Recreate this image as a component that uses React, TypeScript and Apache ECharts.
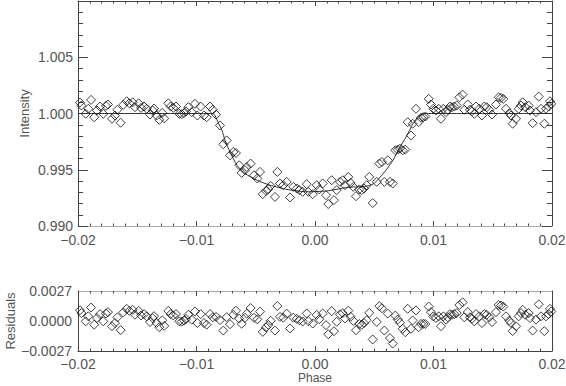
import React, { useEffect, useRef } from "react";
import * as echarts from "echarts";

// Observed phase of each data point
const phase = [
  -0.01983, -0.01971, -0.01935, -0.01913, -0.0189, -0.01863, -0.0184, -0.01814, -0.01787, -0.01764,
  -0.01747, -0.01713, -0.01688, -0.01668, -0.0164, -0.01618, -0.01589, -0.01567, -0.01538, -0.01519,
  -0.01488, -0.01468, -0.01443, -0.0142, -0.01392, -0.0137, -0.01359, -0.01336, -0.01314, -0.01289,
  -0.01272, -0.01238, -0.01218, -0.01196, -0.01173, -0.01145, -0.01125, -0.01105, -0.01089, -0.01069,
  -0.0104, -0.01013, -0.00993,
  -0.00965, -0.00937, -0.00914, -0.00886, -0.00863, -0.00835, -0.00802, -0.00774, -0.00745, -0.00717,
  -0.00689, -0.00667, -0.00639, -0.00619, -0.00591, -0.00576, -0.00543, -0.00515, -0.00487, -0.00464,
  -0.00441, -0.00414, -0.00394, -0.00374, -0.00338, -0.00318, -0.00295, -0.00268, -0.00239, -0.00211,
  -0.00183, -0.00154, -0.00132, -0.00104, -0.0007, -0.00057, -0.00019, 0.00014, 0.00036, 0.00065,
  0.00093, 0.00112, 0.00141, 0.0016, 0.00183, 0.00211, 0.00234, 0.00253, 0.00281, 0.00301,
  0.00323, 0.00346, 0.00374, 0.00394, 0.00414, 0.00436, 0.00458, 0.00487, 0.00521, 0.00543,
  0.00565, 0.00585, 0.00614, 0.00633, 0.00656, 0.00678, 0.00698, 0.00717, 0.0074, 0.00762,
  0.00782, 0.0081, 0.00824, 0.00852, 0.00875, 0.00895, 0.00914, 0.00931, 0.0096, 0.00979,
  0.00998, 0.01021, 0.01044, 0.01063, 0.01083, 0.01106, 0.0112, 0.01139, 0.01156, 0.01176,
  0.01196, 0.01218, 0.01246, 0.0126, 0.01289, 0.01308, 0.01325, 0.01344, 0.01359, 0.01387,
  0.01409, 0.01429, 0.01449, 0.01471, 0.01494, 0.01527, 0.0155, 0.0157, 0.01589, 0.01612,
  0.0164, 0.01654, 0.01668, 0.01696, 0.01719, 0.01738, 0.01753, 0.01775, 0.01803, 0.01814,
  0.01837, 0.01865, 0.01888, 0.01907, 0.01935, 0.01949, 0.01972, 0.01983, 0.01994,
];

// Observed relative intensity
const intensity = [
  1.00097, 1.00071, 0.99997, 1.00042, 1.00121, 0.99967, 1.00027, 1.00062, 0.99997, 1.00068,
  1.0008, 0.99953, 0.99982, 1.00033, 0.99918, 1.00077, 1.00109, 1.00091, 1.001, 1.00056,
  1.00091, 1.0005, 1.00062, 1.00042, 0.99991, 1.00027, 1.00044, 0.99982, 0.99944, 1.00006,
  0.99956, 1.00091, 1.00062, 1.0005, 1.00062, 0.99997, 0.99994, 1.00003, 1.00018, 1.00056,
  1.00012, 1.00086, 0.99982,
  1.00062, 0.99982, 0.99967, 1.00062, 1.00033, 0.99991, 0.99894, 0.99726, 0.99761, 0.99628,
  0.99658, 0.99649, 0.9954, 0.99472, 0.99496, 0.99525, 0.99555, 0.99451, 0.99422, 0.99481,
  0.99283, 0.99312, 0.99327, 0.99357, 0.99259, 0.99481, 0.99378, 0.99363, 0.99392, 0.99254,
  0.99348, 0.99334, 0.99319, 0.99304, 0.99372, 0.99304, 0.99283, 0.99363, 0.99325, 0.99378,
  0.99274, 0.99195, 0.99407, 0.9923, 0.99319, 0.99392, 0.99407, 0.99363, 0.99436, 0.99383,
  0.99348, 0.99265, 0.99325, 0.99319, 0.99334, 0.99363, 0.99436, 0.99204, 0.99392, 0.99555,
  0.99569, 0.99392, 0.99584, 0.99392, 0.99378, 0.99673, 0.99679, 0.99687, 0.99673, 0.99679,
  0.99923, 0.99805, 0.99909, 1.00042, 0.99923, 0.99962, 0.99967, 0.99973, 1.0013, 1.0008,
  1.00042, 1.00027, 1.00042, 0.99953, 1.00042, 1.00012, 1.00033, 1.00062, 1.00056, 1.00062,
  1.00071, 1.00144, 1.00168, 1.00033, 1.0008, 1.00033, 1.0002, 0.99997, 1.00062, 1.00042,
  0.99982, 1.00062, 1.00056, 1.00033, 0.99991, 1.0008, 1.00144, 1.00139, 1.0013, 1.00042,
  1.00003, 0.99982, 0.99909, 0.99953, 1.00042, 1.00071, 1.001, 1.00056, 1.00071, 1.00027,
  0.99914, 1.00012, 1.0015, 1.00042, 0.99909, 1.00042, 1.00062, 1.00109, 1.00086,
];

// Residuals (data minus model) for each point
const residual = [
  0.00097, 0.00071, -0.00003, 0.00042, 0.00121, -0.00033, 0.00027, 0.00062, -0.00003, 0.00068,
  0.0008, -0.00047, -0.00018, 0.00033, -0.00082, 0.00077, 0.00109, 0.00091, 0.001, 0.00056,
  0.00091, 0.0005, 0.00062, 0.00042, -0.00009, 0.00027, 0.00044, -0.00018, -0.00056, 0.00006,
  -0.00044, 0.00091, 0.00062, 0.0005, 0.00062, -0.00003, -0.00006, 0.00003, 0.00018, 0.00056,
  0.00012, 0.00086, -0.00018,
  0.00062, -0.00018, -0.00033, 0.00062, 0.00033, 0.00037, 0.00008, -0.00086, 0.00035, -0.00029,
  0.00056, 0.00092, 0.00021, -0.00025, 0.00029, 0.00066, 0.00117, 0.00029, 0.00015, 0.00084,
  -0.00098, -0.00058, -0.00035, 0.00002, -0.00086, 0.00135, 0.00037, 0.0003, 0.00066, -0.00067,
  0.0003, 0.00019, 0.00007, -0.00004, 0.00068, -0.00001, -0.00023, 0.00055, 0.00016, 0.00068,
  -0.00037, -0.00119, 0.00089, -0.00092, -0.00007, 0.0006, 0.00071, 0.00023, 0.00093, 0.00038,
  0.00001, -0.00083, -0.00027, -0.00034, -0.00019, 0.00007, 0.00073, -0.00166, -0.00008, 0.00134,
  0.00115, -0.00086, 0.00067, -0.00154, -0.00203, 0.00049, 0.00013, -0.00015, -0.0007, -0.00101,
  0.0011, -0.0007, 0.00005, 0.00095, -0.00056, -0.00026, -0.00026, -0.00027, 0.0013, 0.0008,
  0.00042, 0.00027, 0.00042, -0.00047, 0.00042, 0.00012, 0.00033, 0.00062, 0.00056, 0.00062,
  0.00071, 0.00144, 0.00168, 0.00033, 0.0008, 0.00033, 0.0002, -0.00003, 0.00062, 0.00042,
  -0.00018, 0.00062, 0.00056, 0.00033, -0.00009, 0.0008, 0.00144, 0.00139, 0.0013, 0.00042,
  0.00003, -0.00018, -0.00091, -0.00047, 0.00042, 0.00071, 0.001, 0.00056, 0.00071, 0.00027,
  -0.00086, 0.00012, 0.0015, 0.00042, -0.00091, 0.00042, 0.00062, 0.00109, 0.00086,
];

// Transit model curve
const modelPhase = [
  -0.02, -0.00861, -0.00819, -0.00785, -0.00759, -0.00717, -0.00658, -0.00591, -0.00489, -0.0038,
  -0.00236, -0.00068, 0.00101, 0.0027, 0.0043, 0.00489, 0.0054, 0.00599, 0.00658, 0.00709,
  0.00768, 0.00827, 0.00878, 0.00937, 0.02,
];
const modelIntensity = [
  1, 1, 0.99923, 0.9985, 0.99761, 0.99658, 0.9954, 0.99466, 0.99407, 0.99363,
  0.99325, 0.99304, 0.99312, 0.99342, 0.99354, 0.99372, 0.99422, 0.99496, 0.99584, 0.99688,
  0.9979, 0.99909, 0.99982, 1, 1,
];

const FONT = "Liberation Sans";
const LABEL_COLOR = "#555";
const AXIS_COLOR = "#444";

const minusFmt = (digits: number) => (v: number) => {
  const s = Math.abs(v) < 1e-12 ? (0).toFixed(digits) : v.toFixed(digits);
  return s.replace("-", "\u2212");
};

export default function App() {
  const ref = useRef<HTMLDivElement>(null);

  useEffect(() => {
    if (!ref.current) return;
    const chart = echarts.init(ref.current, undefined, { renderer: "svg" });

    const labelBase = { color: LABEL_COLOR, fontFamily: FONT, fontSize: 14 };
    const nameBase = { color: LABEL_COLOR, fontFamily: FONT, fontSize: 13 };
    const tickStyle = { color: AXIS_COLOR, width: 1 };

    const xCommon = (gridIndex: number, position: "top" | "bottom", lineColor: string) => ({
      type: "value" as const,
      gridIndex,
      position,
      min: -0.02,
      max: 0.02,
      interval: 0.01,
      axisLine: { show: true, onZero: false, lineStyle: { color: lineColor, width: 1 } },
      axisTick: { show: true, inside: true, length: 5, lineStyle: tickStyle },
      minorTick: { show: true, splitNumber: 10, length: 2.5, lineStyle: tickStyle },
      splitLine: { show: false },
      minorSplitLine: { show: false },
    });

    const option: any = {
      animation: false,
      backgroundColor: "#fff",
      grid: [
        { left: 78, top: 1, width: 474, height: 225, containLabel: false, outerBoundsMode: "none" },
        { left: 78, top: 291, width: 474, height: 60, containLabel: false, outerBoundsMode: "none" },
      ],
      xAxis: [
        {
          ...xCommon(0, "bottom", "#aaa"),
          axisLabel: { ...labelBase, margin: 7, formatter: minusFmt(2) },
        },
        { ...xCommon(0, "top", AXIS_COLOR), axisLabel: { show: false } },
        {
          ...xCommon(1, "bottom", AXIS_COLOR),
          axisLabel: { ...labelBase, margin: 6, formatter: minusFmt(2) },
          name: "Phase",
          nameLocation: "middle",
          nameGap: 21,
          nameMoveOverlap: false,
          nameTextStyle: { ...nameBase, fontSize: 12 },
        },
        { ...xCommon(1, "top", "#aaa"), axisLabel: { show: false } },
      ],
      yAxis: [
        {
          type: "value",
          gridIndex: 0,
          position: "left",
          min: 0.99,
          max: 1.01,
          interval: 0.005,
          axisLine: { show: true, onZero: false, lineStyle: { color: AXIS_COLOR, width: 1 } },
          axisTick: { show: true, inside: true, length: 10, lineStyle: tickStyle },
          minorTick: { show: true, splitNumber: 5, length: 5, lineStyle: tickStyle },
          splitLine: { show: false },
          axisLabel: {
            ...labelBase,
            margin: 5,
            formatter: (v: number) => (v > 1.0095 ? "" : v.toFixed(3)),
          },
          name: "Intensity",
          nameLocation: "middle",
          nameGap: 47,
          nameMoveOverlap: false,
          nameTextStyle: { ...nameBase },
        },
        {
          type: "value",
          gridIndex: 0,
          position: "right",
          min: 0.99,
          max: 1.01,
          interval: 0.005,
          axisLine: { show: true, onZero: false, lineStyle: { color: AXIS_COLOR, width: 1 } },
          axisTick: { show: true, inside: true, length: 10, lineStyle: tickStyle },
          minorTick: { show: true, splitNumber: 5, length: 5, lineStyle: tickStyle },
          splitLine: { show: false },
          axisLabel: { show: false },
        },
        {
          type: "value",
          gridIndex: 1,
          position: "left",
          min: -0.0027,
          max: 0.0027,
          interval: 0.0027,
          axisLine: { show: true, onZero: false, lineStyle: { color: AXIS_COLOR, width: 1 } },
          axisTick: { show: false },
          splitLine: { show: false },
          axisLabel: { ...labelBase, margin: 6, formatter: minusFmt(4) },
          name: "Residuals",
          nameLocation: "middle",
          nameGap: 61,
          nameMoveOverlap: false,
          nameTextStyle: { ...nameBase },
        },
        {
          type: "value",
          gridIndex: 1,
          position: "right",
          min: -0.0027,
          max: 0.0027,
          interval: 0.0027,
          axisLine: { show: true, onZero: false, lineStyle: { color: AXIS_COLOR, width: 1 } },
          axisTick: { show: false },
          splitLine: { show: false },
          axisLabel: { show: false },
        },
      ],
      series: [
        {
          type: "line",
          xAxisIndex: 0,
          yAxisIndex: 0,
          data: modelPhase.map((p, i) => [p, modelIntensity[i]]),
          showSymbol: false,
          smooth: 0.2,
          lineStyle: { color: "#333", width: 1 },
          z: 1,
        },
        {
          type: "scatter",
          xAxisIndex: 0,
          yAxisIndex: 0,
          data: phase.map((p, i) => [p, intensity[i]]),
          symbol: "diamond",
          symbolSize: [9, 9],
          itemStyle: { color: "rgba(0,0,0,0)", borderColor: "#111", borderWidth: 1 },
          z: 2,
        },
        {
          type: "scatter",
          xAxisIndex: 2,
          yAxisIndex: 2,
          data: phase.map((p, i) => [p, residual[i]]),
          symbol: "diamond",
          symbolSize: [9, 9],
          itemStyle: { color: "rgba(0,0,0,0)", borderColor: "#111", borderWidth: 1 },
          z: 2,
        },
      ],
    };

    chart.setOption(option);
    return () => chart.dispose();
  }, []);

  return (
    <div
      ref={ref}
      style={{ position: "absolute", left: 0, top: 0, width: 566, height: 386, background: "#fff" }}
    />
  );
}
